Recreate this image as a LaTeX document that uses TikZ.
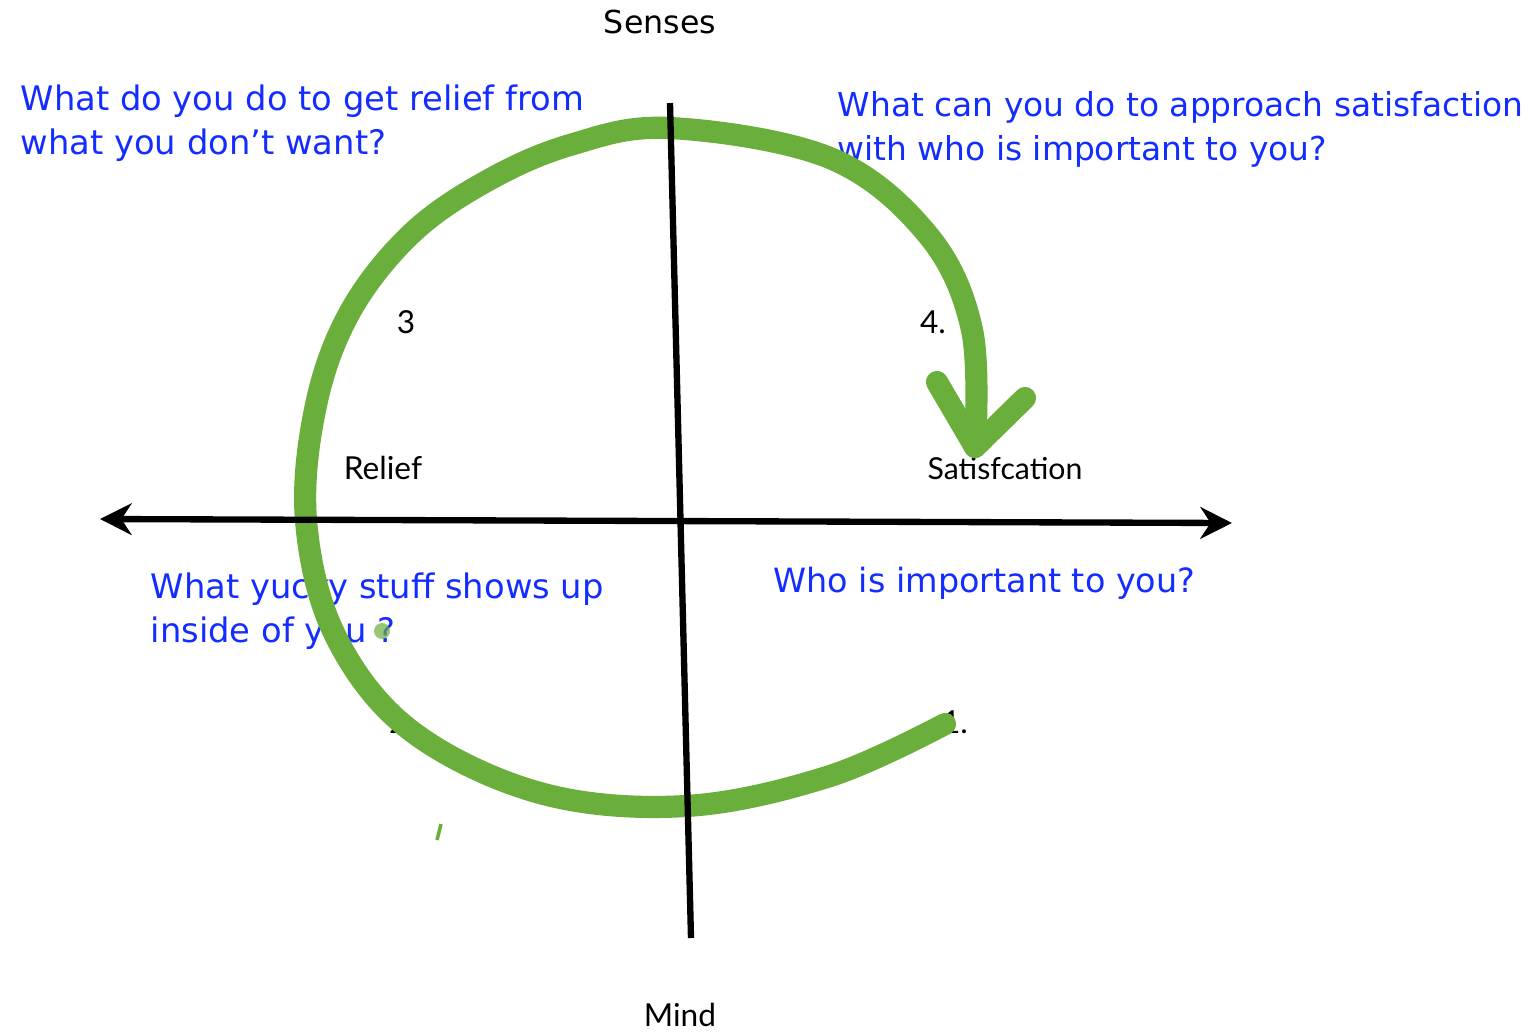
\documentclass[tikz,border=0pt]{standalone}
\usetikzlibrary{arrows.meta}
\usepackage{fontspec}
\setmainfont{Lato}
\newfontfamily\handfont{DejaVu Sans}
\definecolor{crayon}{RGB}{106,174,60}
\definecolor{askblue}{RGB}{20,45,255}
\begin{document}
\begin{tikzpicture}[x=0.01cm, y=-0.01cm,
    question/.style={anchor=north west, inner sep=0pt, align=left, text=askblue,
        font=\handfont\fontsize{9.6}{12.5}\selectfont},
    tag/.style={inner sep=0pt, font=\fontsize{9}{11}\selectfont},
    axisline/.style={line width=1.8pt},
    loopline/.style={crayon, line width=6.3pt, line cap=round, line join=round}]
    \useasboundingbox (0,0) rectangle (1535,1032);
    % questions and tags
    \node[question](qrelief)at(20,84){What do you do to get relief from\\what you don’t want?};
    \node[question,font=\handfont\fontsize{9.35}{12.5}\selectfont](qsatis)at(837,91){What can you do to approach satisfaction\\with who is important to you?};
    \node[question](qyucky)at(150,572){What yucky stuff shows up\\inside of you ?};
    \node[question,font=\handfont\fontsize{9.5}{12.5}\selectfont](qwho)at(773,566){Who is important to you?};
    \node[tag,font=\handfont\fontsize{9}{11}\selectfont](senses)at(660,22){Senses};
    \node[tag](mind)at(680,1015){Mind};
    \node[tag](relief)at(383,468){Relief};
    \node[tag,font=\fontsize{8.6}{11}\selectfont](satis)at(1005,469){Satisfcation};
    \node[tag](n1)at(955,722){1.};
    \node[tag](n2)at(402,722){2.};
    \node[tag](n3)at(406,322){3};
    \node[tag](n4)at(933,322){4.};
    % the loop
    \coordinate(start)at(945,724);
    \coordinate(tip)at(975,447);
    \coordinate(armL)at(937,382);
    \coordinate(armR)at(1025,398);
    \draw[loopline] plot[smooth, tension=0.6] coordinates {(start) (830,776) (686,806) (540,793)
        (410,730) (335,635) (306,520) (316,405) (350,312) (410,235) (485,182) (570,145)
        (670,128) (830,158) (928,235) (972,330) (tip)};
    \draw[loopline](armL)--(tip)--(armR);
    \draw[crayon, line width=1pt](437,840)--(441,824);
    \fill[crayon, opacity=0.7](382,631)circle(8);
    % axes
    \coordinate(west)at(100,519);
    \coordinate(east)at(1232,523);
    \coordinate(north)at(670,103);
    \coordinate(south)at(691,938);
    \draw[axisline, {Stealth[length=9pt, width=9pt]}-{Stealth[length=9pt, width=9pt]}](west)--(east);
    \draw[axisline](north)--(south);
\end{tikzpicture}
\end{document}
